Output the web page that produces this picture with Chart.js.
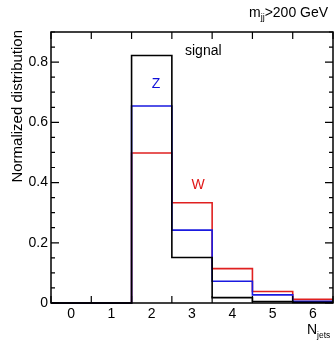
<!DOCTYPE html>
<html>
<head>
<meta charset="utf-8">
<script src="https://cdn.jsdelivr.net/npm/chart.js@4"></script>
<style>
  html, body { margin: 0; padding: 0; background: #fff; }
  #wrap { width: 334px; height: 341px; }
</style>
</head>
<body>
<div id="wrap"><canvas id="c" width="334" height="341"></canvas></div>
<script>
// --- data ---
const nJets = [0, 1, 2, 3, 4, 5, 6];
const signalVals = [0, 0, 0.822, 0.151, 0.018, 0.005, 0.002];
const zVals      = [0, 0, 0.654, 0.242, 0.072, 0.027, 0.006];
const wVals      = [0, 0, 0.498, 0.333, 0.114, 0.038, 0.012];
const yMajor = [0, 0.2, 0.4, 0.6, 0.8];
const yMajorLabels = ['0', '0.2', '0.4', '0.6', '0.8'];
const yMinorStep = 0.05;

const FONT = '"Liberation Sans", Arial, Helvetica, sans-serif';

// histogram -> step points at bin edges
function steps(vals) {
  const pts = nJets.map((n, i) => ({ x: n - 0.5, y: vals[i] }));
  pts.push({ x: nJets[nJets.length - 1] + 0.5, y: vals[vals.length - 1] });
  return pts;
}

function line(label, vals, color) {
  return {
    label, data: steps(vals), borderColor: color, borderWidth: 1.6,
    pointRadius: 0, fill: false, stepped: 'before', clip: false
  };
}

// frame, inward ticks and annotation text
const decor = {
  id: 'decor',
  afterDraw(chart) {
    const { ctx, chartArea: a, scales: { x, y } } = chart;
    ctx.save();
    ctx.strokeStyle = '#000';
    ctx.lineWidth = 1.5;
    ctx.strokeRect(a.left, a.top, a.right - a.left, a.bottom - a.top);

    ctx.lineWidth = 1.2;
    ctx.beginPath();
    // x ticks at bin edges
    for (let e = -0.5; e <= 6.5; e += 1) {
      const px = x.getPixelForValue(e);
      ctx.moveTo(px, a.bottom); ctx.lineTo(px, a.bottom - 7);
      ctx.moveTo(px, a.top); ctx.lineTo(px, a.top + 7);
    }
    // y ticks
    for (let k = 0; k * yMinorStep <= y.max + 1e-9; k++) {
      const v = k * yMinorStep;
      const isMajor = yMajor.some(m => Math.abs(m - v) < 1e-6);
      const len = isMajor ? 8 : 4;
      const py = y.getPixelForValue(v);
      ctx.moveTo(a.left, py); ctx.lineTo(a.left + len, py);
      ctx.moveTo(a.right, py); ctx.lineTo(a.right - len, py);
    }
    ctx.stroke();

    ctx.fillStyle = '#000';
    ctx.textBaseline = 'middle';
    ctx.font = '14px ' + FONT;
    ctx.textAlign = 'left';
    ctx.fillText('signal', 185, 51);

    ctx.fillStyle = '#1010d8';
    ctx.textAlign = 'center';
    ctx.fillText('Z', 156, 84);
    ctx.fillStyle = '#e01818';
    ctx.fillText('W', 198, 185);

    // m_jj>200 GeV
    ctx.fillStyle = '#000';
    ctx.textAlign = 'left';
    ctx.font = '14px ' + FONT;
    let tx = 249;
    ctx.fillText('m', tx, 13);
    tx += ctx.measureText('m').width;
    ctx.font = '9px ' + FONT;
    ctx.fillText('jj', tx, 18);
    tx += ctx.measureText('jj').width;
    ctx.font = '14px ' + FONT;
    ctx.fillText('>200 GeV', tx, 13);

    // N_jets
    tx = 307;
    ctx.font = '14px ' + FONT;
    ctx.fillText('N', tx, 330);
    tx += ctx.measureText('N').width;
    ctx.font = '8.5px ' + FONT;
    ctx.fillText('jets', tx, 336);

    // y title
    ctx.font = '15px ' + FONT;
    ctx.translate(18, 30);
    ctx.rotate(-Math.PI / 2);
    ctx.textAlign = 'right';
    ctx.fillText('Normalized distribution', 0, 0);
    ctx.restore();
  }
};

new Chart(document.getElementById('c'), {
  type: 'line',
  data: {
    datasets: [
      line('signal', signalVals, '#000000'),
      line('Z', zVals, '#1a1ae0'),
      line('W', wVals, '#e02020')
    ]
  },
  options: {
    responsive: false,
    animation: false,
    devicePixelRatio: 1,
    layout: { padding: { top: 32, right: 1, left: 0, bottom: 0 } },
    plugins: { legend: { display: false }, tooltip: { enabled: false } },
    scales: {
      x: {
        type: 'linear', min: -0.5, max: 6.5,
        afterBuildTicks: s => { s.ticks = nJets.map(v => ({ value: v })); },
        afterFit: s => { s.height = 38; },
        grid: { display: false, drawTicks: false },
        border: { display: false },
        ticks: { color: '#000', font: { family: FONT, size: 14 }, padding: 3,
                 callback: v => String(v), maxRotation: 0 }
      },
      y: {
        type: 'linear', min: 0, max: 0.9,
        afterBuildTicks: s => { s.ticks = yMajor.map(v => ({ value: v })); },
        afterFit: s => { s.width = 51; },
        grid: { display: false, drawTicks: false },
        border: { display: false },
        ticks: { color: '#000', font: { family: FONT, size: 14 }, padding: 3,
                 callback: (v, i) => yMajorLabels[i] }
      }
    }
  },
  plugins: [decor]
});
</script>
</body>
</html>
